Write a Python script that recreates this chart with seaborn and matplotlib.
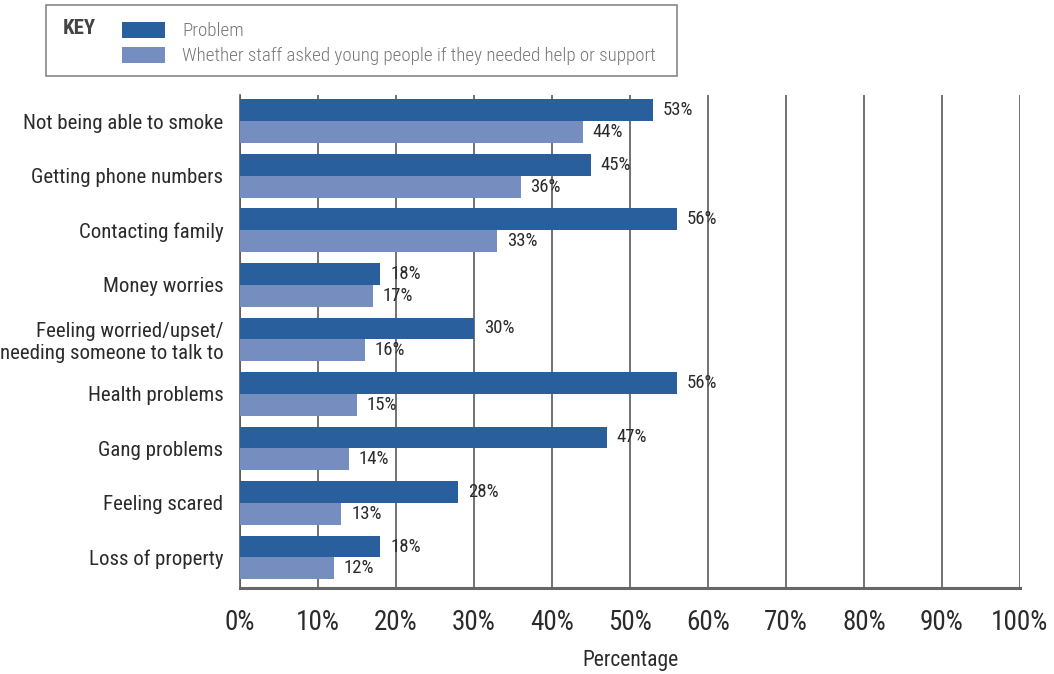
import numpy as np
import pandas as pd
import matplotlib
matplotlib.use('Agg')
import matplotlib.pyplot as plt
import seaborn as sns
from matplotlib.patches import Rectangle

categories = [
    'Not being able to smoke',
    'Getting phone numbers',
    'Contacting family',
    'Money worries',
    'Feeling worried/upset/\nneeding someone to talk to',
    'Health problems',
    'Gang problems',
    'Feeling scared',
    'Loss of property',
]
problem = [53, 45, 56, 18, 30, 56, 47, 28, 18]
asked = [44, 36, 33, 17, 16, 15, 14, 13, 12]
series_names = ['Problem', 'Whether staff asked young people if they needed help or support']
x_ticks = list(range(0, 101, 10))

DARK = '#2a5f9e'
LIGHT = '#768ebf'
TEXT = '#2b2b2b'
GRID = '#5a5a5a'

sns.set_style('white')
plt.rcParams['font.family'] = ['Roboto Condensed', 'DejaVu Sans']

df = pd.DataFrame({
    'category': categories * 2,
    'value': problem + asked,
    'series': [series_names[0]] * len(categories) + [series_names[1]] * len(categories),
})

fig = plt.figure(figsize=(10.54, 6.74), dpi=100)
ax = fig.add_axes([240 / 1054, 1 - 588 / 674, 780 / 1054, 493 / 674])

sns.barplot(data=df, y='category', x='value', hue='series', orient='h',
            palette=[DARK, LIGHT], width=0.8, saturation=1, ax=ax,
            legend=False, zorder=3, linewidth=0)

for cont in ax.containers:
    ax.bar_label(cont, fmt='{:.0f}%', padding=7, fontsize=13.5, color=TEXT)

ax.set_xlim(0, 100)
ax.set_ylim(8.56, -0.48)
ax.set_xticks(x_ticks)
ax.set_xticklabels([f'{t}%' for t in x_ticks], fontsize=19.5, color=TEXT)
ax.tick_params(axis='x', length=7, width=1.2, color=GRID, pad=8)
ax.tick_params(axis='y', length=0, pad=12, labelsize=15, labelcolor=TEXT)
ax.xaxis.grid(True, color=GRID, linewidth=1.2, zorder=0)
ax.set_axisbelow(True)
ax.set_ylabel('')
ax.set_xlabel('Percentage', fontsize=15.5, color=TEXT, labelpad=10)
for lab in ax.get_yticklabels():
    lab.set_multialignment('right')
    lab.set_linespacing(1.15)

for s in ['top', 'right']:
    ax.spines[s].set_visible(False)
ax.spines['bottom'].set_color('#666666')
ax.spines['bottom'].set_linewidth(2.2)
ax.spines['left'].set_color(GRID)
ax.spines['left'].set_linewidth(1.2)

# key box
W, H = 1054, 674
fig.patches.append(Rectangle((46 / W, 1 - 76 / H), 631 / W, 71 / H,
                             transform=fig.transFigure, fill=False,
                             edgecolor='#888888', linewidth=1.2))
fig.text(63 / W, 1 - 28 / H, 'KEY', fontsize=15, fontweight='bold',
         color='#444444', va='center', ha='left')
for i, (name, col) in enumerate(zip(series_names, [DARK, LIGHT])):
    yc = 30 + i * 25
    fig.patches.append(Rectangle((122 / W, 1 - (yc + 7.5) / H), 43 / W, 15 / H,
                                 transform=fig.transFigure, facecolor=col,
                                 edgecolor='none'))
    fig.text(182 / W, 1 - (yc + 1) / H, name, fontsize=13.7, color='#777777',
             va='center', ha='left', fontweight='light')

fig.savefig('out.png', dpi=100)
